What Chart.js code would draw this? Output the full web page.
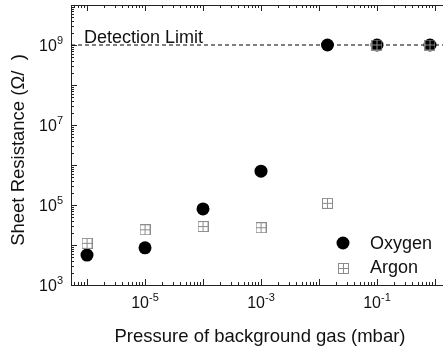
<!DOCTYPE html>
<html>
<head>
<meta charset="utf-8">
<script src="https://cdn.jsdelivr.net/npm/chart.js@4/dist/chart.umd.min.js"></script>
<style>
  html, body { margin: 0; padding: 0; background: #fff; }
  canvas { display: block; }
</style>
</head>
<body>
<canvas id="c" width="443" height="349"></canvas>
<script>
const oxygenP = [1e-6, 1e-5, 1e-4, 1e-3, 0.014, 0.1, 0.82];
const oxygenR = [5.6e3, 8.5e3, 8e4, 7e5, 1e9, 1e9, 1e9];
const argonP  = [1e-6, 1e-5, 1e-4, 1e-3, 0.014, 0.1, 0.82];
const argonR  = [1.1e4, 2.4e4, 2.9e4, 2.7e4, 1.1e5, 1e9, 1e9];
const detectionLimit = 1e9;
const xLabelExps = [-5, -3, -1];
const yLabelExps = [3, 5, 7, 9];
const xMin = Math.pow(10, -6.276), xMax = Math.pow(10, 0.138);
const yMin = 1e3, yMax = 1e10;

const FONT = '"Liberation Sans", Arial, sans-serif';

// square with a plus inside, for argon
function squarePlus(){
  const c = document.createElement("canvas");
  c.width = 11; c.height = 11;
  const g = c.getContext("2d");
  g.strokeStyle = "#8c8c8c";
  g.lineWidth = 1;
  g.strokeRect(0.5, 0.5, 10, 10);
  g.beginPath();
  g.moveTo(5.5, 0.5); g.lineTo(5.5, 10.5);
  g.moveTo(0.5, 5.5); g.lineTo(10.5, 5.5);
  g.stroke();
  return c;
}
const argonMark = squarePlus();

function pairs(xs, ys){ return xs.map((x, i) => ({ x, y: ys[i] })); }

function power(ctx, x, y, exp, align){
  ctx.font = "16px " + FONT;
  const base = "10";
  const bw = ctx.measureText(base).width;
  ctx.font = "11px " + FONT;
  const ew = ctx.measureText(String(exp)).width;
  let left = align === "right" ? x - bw - ew : x - (bw + ew) / 2;
  ctx.textAlign = "left";
  ctx.textBaseline = "middle";
  ctx.font = "16px " + FONT;
  ctx.fillText(base, left, y);
  ctx.font = "11px " + FONT;
  ctx.fillText(String(exp), left + bw, y - 6);
}

const axesPlugin = {
  id: "axes",
  beforeDatasetsDraw(chart){
    const { ctx, chartArea: a, scales: { x, y } } = chart;
    ctx.save();
    ctx.strokeStyle = "#222";
    ctx.lineWidth = 1;
    ctx.beginPath();
    ctx.moveTo(a.left + 0.5, a.top + 0.5); ctx.lineTo(a.right, a.top + 0.5);
    ctx.moveTo(a.left + 0.5, a.top); ctx.lineTo(a.left + 0.5, a.bottom + 0.5);
    ctx.moveTo(a.left, a.bottom + 0.5); ctx.lineTo(a.right, a.bottom + 0.5);
    // x ticks, bottom and top, pointing inward
    for (let e = -7; e <= 1; e++) {
      for (let m = 1; m <= 9; m++) {
        const v = m * Math.pow(10, e);
        if (v < xMin || v > xMax) continue;
        const px = Math.round(x.getPixelForValue(v)) + 0.5;
        const len = m === 1 ? 6 : 3;
        ctx.moveTo(px, a.bottom); ctx.lineTo(px, a.bottom - len);
        ctx.moveTo(px, a.top); ctx.lineTo(px, a.top + len);
      }
    }
    // y ticks, left
    for (let e = 3; e <= 10; e++) {
      for (let m = 1; m <= 9; m++) {
        const v = m * Math.pow(10, e);
        if (v < yMin || v > yMax) continue;
        const py = Math.round(y.getPixelForValue(v)) + 0.5;
        const len = m === 1 ? 6 : 3;
        ctx.moveTo(a.left, py); ctx.lineTo(a.left + len, py);
      }
    }
    ctx.stroke();
    ctx.restore();
  },
  afterDraw(chart){
    const { ctx, chartArea: a, scales: { x, y } } = chart;
    ctx.save();
    ctx.fillStyle = "#111";
    xLabelExps.forEach(e => power(ctx, x.getPixelForValue(Math.pow(10, e)), 304, e, "center"));
    yLabelExps.forEach(e => power(ctx, 63, y.getPixelForValue(Math.pow(10, e)) + 2, e, "right"));

    ctx.font = "18.5px " + FONT;
    ctx.textBaseline = "middle";
    ctx.textAlign = "center";
    ctx.fillText("Pressure of background gas (mbar)", (a.left + a.right) / 2 + 3, 337);
    ctx.save();
    ctx.translate(19, 150);
    ctx.rotate(-Math.PI / 2);
    ctx.fillText("Sheet Resistance (\u03A9/  )", 0, 0);
    ctx.restore();

    ctx.font = "18px " + FONT;
    ctx.textAlign = "left";
    ctx.textBaseline = "alphabetic";
    ctx.fillText("Detection Limit", 84, 43);

    // legend
    ctx.textBaseline = "middle";
    ctx.beginPath();
    ctx.fillStyle = "#000";
    ctx.arc(343, 243, 6.5, 0, Math.PI * 2);
    ctx.fill();
    ctx.drawImage(argonMark, 338, 263);
    ctx.fillStyle = "#111";
    ctx.fillText("Oxygen", 370, 244);
    ctx.fillText("Argon", 370, 268);
    ctx.restore();
  }
};

new Chart(document.getElementById("c"), {
  type: "scatter",
  data: {
    datasets: [
      {
        label: "Detection Limit",
        type: "line",
        order: 2,
        data: [{ x: xMin, y: detectionLimit }, { x: xMax, y: detectionLimit }],
        borderColor: "#000",
        borderWidth: 1,
        borderDash: [4, 3],
        pointRadius: 0,
      },
      {
        label: "Oxygen",
        order: 1,
        data: pairs(oxygenP, oxygenR),
        pointStyle: "circle",
        pointRadius: 6.5,
        backgroundColor: "#000",
        borderColor: "#000",
        borderWidth: 0,
      },
      {
        label: "Argon",
        order: 0,
        data: pairs(argonP, argonR),
        pointStyle: argonMark,
        backgroundColor: "#fff",
        borderColor: "#8c8c8c",
      },
    ],
  },
  options: {
    responsive: false,
    animation: false,
    layout: { autoPadding: false, padding: { left: 71, top: 5, right: 0, bottom: 64 } },
    plugins: { legend: { display: false }, tooltip: { enabled: false } },
    scales: {
      x: { type: "logarithmic", min: xMin, max: xMax, display: false },
      y: { type: "logarithmic", min: yMin, max: yMax, display: false },
    },
  },
  plugins: [axesPlugin],
});
</script>
</body>
</html>
